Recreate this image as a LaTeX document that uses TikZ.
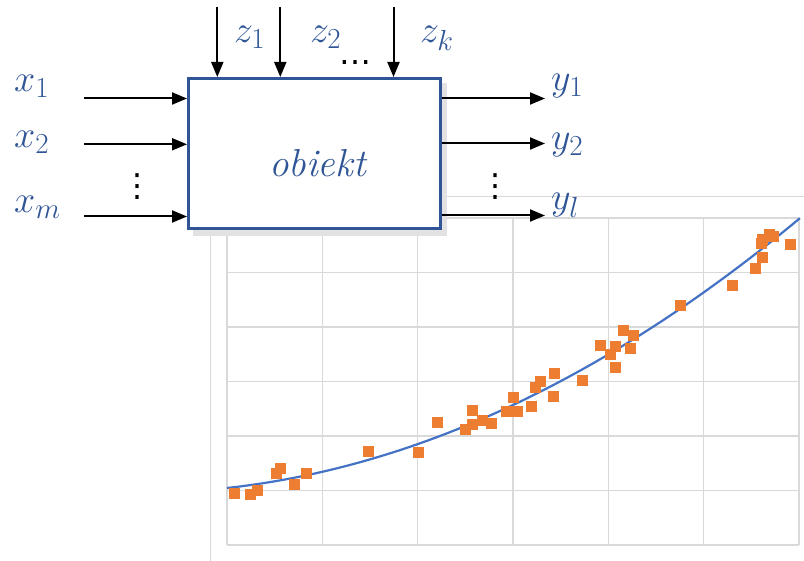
\RequirePackage{fix-cm}
\documentclass[tikz,border=0pt]{standalone}
\usepackage[no-math]{fontspec}
\newfontfamily\dotsfont{DejaVu Sans}
\DeclareMathSizes{38}{38}{29}{21}
\usetikzlibrary{arrows.meta}
\definecolor{dblue}{HTML}{2F5597}
\definecolor{gridgray}{HTML}{D9D9D9}
\definecolor{ptorange}{HTML}{ED7D31}
\definecolor{curveblue}{HTML}{4472C4}
\definecolor{shadowgray}{HTML}{E2E2E2}
\begin{document}
\begin{tikzpicture}[x=1pt,y=-1pt,
  sig/.style={line width=2pt,-{Triangle[length=15pt,width=12pt]}},
  lbl/.style={text=dblue,inner sep=0pt,anchor=base west,font=\fontsize{38}{44}\selectfont},
  dotsnode/.style={inner sep=0pt,font=\fontsize{32}{38}\selectfont\dotsfont},
  gridline/.style={draw=gridgray,line width=1.5pt},
  pt/.style={fill=ptorange}]
\useasboundingbox (0,0) rectangle (804,561);
% chart frame
\draw[gridgray,line width=1pt] (210,197) rectangle (810,570);
% grid
\foreach \i in {0,...,6}{
  \draw[gridline] ({227+95.33*\i},218) -- ({227+95.33*\i},545);
  \draw[gridline] (227,{218+54.5*\i}) -- (799,{218+54.5*\i});
}
% fitted curve
\draw[curveblue,line width=2.2pt] plot[domain=0:5.73,samples=80] ({227+100*\x},{488-11*\x-6.3*\x*\x});
% data points
\foreach \px/\py in {234.6/493.3,250/494,257.7/490.7,276.9/474,280.8/469,294.6/484.3,306.2/474,
  368.5/451.7,418.5/452.7,437.7/422.3,465.4/430,472.3/411,472.3/424.3,482.7/420.7,491.5/423.3,
  506.5/412,513.8/398,517.7/412,531.5/407,535.4/388,540.4/381.3,553/397,554.6/373.7,582.3/380.3,
  600/346,610/354.7,615.4/367.7,615.4/346.7,623/330.7,630.8/348.7,633.8/335.7,680.8/305.7,
  732/285.3,755.8/268.7,762.3/257.3,761.5/244,762.3/240,769.2/234.3,773/236.7,790.4/244.3}{
  \fill[pt] (\px-5.5,\py-5.5) rectangle (\px+5.5,\py+5.5);
}
% object box with shadow
\fill[shadowgray] (193,83) rectangle (447,236);
\node[draw=dblue,line width=3pt,fill=white,minimum width=251.5pt,minimum height=150.5pt,inner sep=0pt] (obj) at (314.25,153.75) {};
\node[text=dblue,inner sep=0pt,anchor=base,font=\fontsize{39}{45}\selectfont\itshape] (objtext) at (317.5,177) {obiekt};
% inputs x
\coordinate (xin1) at (84,98.5);
\coordinate (xin2) at (84,144.3);
\coordinate (xinm) at (84,216.5);
\draw[sig] (xin1) -- (obj.west |- xin1);
\draw[sig] (xin2) -- (obj.west |- xin2);
\draw[sig] (xinm) -- (obj.west |- xinm);
% disturbances z
\coordinate (zin1) at (217.3,7);
\coordinate (zin2) at (280.3,7);
\coordinate (zink) at (393.5,7);
\draw[sig] (zin1) -- (zin1 |- obj.north);
\draw[sig] (zin2) -- (zin2 |- obj.north);
\draw[sig] (zink) -- (zink |- obj.north);
% outputs y
\coordinate (yout1) at (545,98.5);
\coordinate (yout2) at (545,143.5);
\coordinate (youtl) at (545,215.5);
\draw[sig] (obj.east |- yout1) -- (yout1);
\draw[sig] (obj.east |- yout2) -- (yout2);
\draw[sig] (obj.east |- youtl) -- (youtl);
% labels
\node[lbl] (lx1) at (14,92) {$x_1$};
\node[lbl] (lx2) at (14,148) {$x_2$};
\node[lbl] (lxm) at (14,213) {$x_m$};
\node[lbl] (lz1) at (234,43) {$z_1$};
\node[lbl] (lz2) at (310,43) {$z_2$};
\node[lbl] (lzk) at (420,43) {$z_k$};
\node[lbl] (ly1) at (551,91) {$y_1$};
\node[lbl] (ly2) at (551,150) {$y_2$};
\node[lbl] (lyl) at (551,210) {$y_l$};
% dots
\node[dotsnode] (dz) at (355,63) {…};
\node[dotsnode] (dx) at (137,187) {⋮};
\node[dotsnode] (dy) at (495,187) {⋮};
\end{tikzpicture}
\end{document}
